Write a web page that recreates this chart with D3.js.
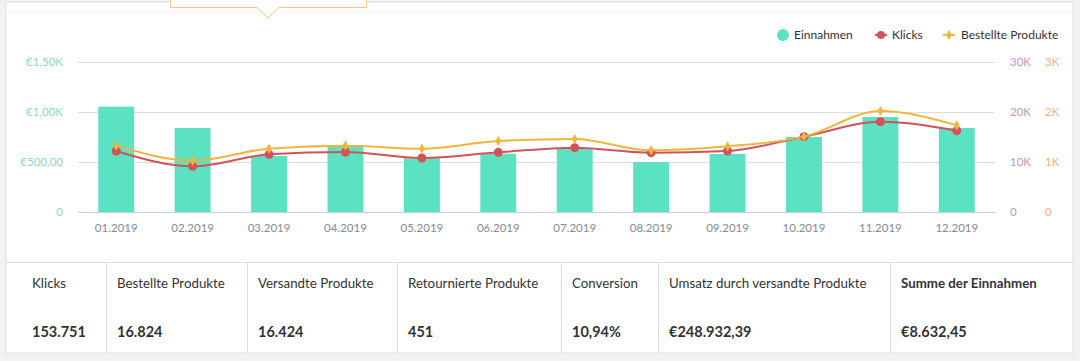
<!DOCTYPE html>
<html>
<head>
<meta charset="utf-8">
<script src="https://cdn.jsdelivr.net/npm/d3@7"></script>
<style>
  html, body { margin: 0; padding: 0; background: #f2f2f2; }
  svg { display: block; font-family: Lato, "Open Sans", sans-serif; }
</style>
</head>
<body>
<svg id="chart" width="1080" height="361"></svg>
<script>
// ── DATA ────────────────────────────────────────────
const months    = ['01.2019','02.2019','03.2019','04.2019','05.2019','06.2019',
                   '07.2019','08.2019','09.2019','10.2019','11.2019','12.2019'];
const einnahmen = [1053, 840, 560, 670, 537, 583, 633, 500, 580, 750, 950, 840];
const klicks    = [12200, 9130, 11530, 12000, 10800, 11930, 12870, 11870, 12200, 15070, 18070, 16270];
const bestellte = [1327, 1027, 1267, 1327, 1267, 1420, 1460, 1233, 1313, 1507, 2020, 1733];

const leftTicks   = [0, 500, 1000, 1500];
const leftLabels  = ['0', '€500,00', '€1,00K', '€1,50K'];
const klickTicks  = [0, 10000, 20000, 30000];
const klickLabels = ['0', '10K', '20K', '30K'];
const bestTicks   = [0, 1000, 2000, 3000];
const bestLabels  = ['0', '1K', '2K', '3K'];

const legendItems = ['Einnahmen', 'Klicks', 'Bestellte Produkte'];

const statLabels = ['Klicks', 'Bestellte Produkte', 'Versandte Produkte', 'Retournierte Produkte',
                    'Conversion', 'Umsatz durch versandte Produkte', 'Summe der Einnahmen'];
const statValues = ['153.751', '16.824', '16.424', '451', '10,94%', '€248.932,39', '€8.632,45'];
const statEdges  = [6, 106, 247, 397, 561, 658, 890, 1073];

// ── COLOURS ─────────────────────────────────────────
const cBar   = '#5ae2c3';
const cKlick = '#d3525a';
const cBest  = '#f0b53c';

const svg = d3.select('#chart');

// ── CARD ─────────────────────────────────────────────
svg.append('rect').attr('x', 6).attr('y', 2).attr('width', 1067).attr('height', 351)
  .attr('fill', '#fff').attr('stroke', '#dedede');
svg.append('line').attr('x1', 6).attr('x2', 1073).attr('y1', 11.5).attr('y2', 11.5)
  .attr('stroke', '#f6f6f6');

// tooltip stub at top
svg.append('path')
  .attr('d', 'M170.5,-2 L170.5,7.5 L257,7.5 L268,18 L279,7.5 L366.5,7.5 L366.5,-2')
  .attr('fill', '#fff').attr('stroke', '#f7c97a').attr('stroke-width', 1);

// ── SCALES ───────────────────────────────────────────
const x = d3.scaleBand().domain(months).range([78, 995]).paddingInner(0.53).paddingOuter(0.265);
const yE = d3.scaleLinear().domain([0, 1500]).range([212, 62]);
const yK = d3.scaleLinear().domain([0, 30000]).range([212, 62]);
const yB = d3.scaleLinear().domain([0, 3000]).range([212, 62]);

// gridlines
svg.append('g').selectAll('line').data(leftTicks.slice(1)).enter().append('line')
  .attr('x1', 78).attr('x2', 995)
  .attr('y1', d => Math.round(yE(d)) + 0.5).attr('y2', d => Math.round(yE(d)) + 0.5)
  .attr('stroke', '#dddddd');

// left axis labels
svg.append('g').selectAll('text').data(leftTicks).enter().append('text')
  .attr('x', 63).attr('y', d => yE(d)).attr('dy', '0.35em')
  .attr('text-anchor', 'end').attr('font-size', 11.5).attr('fill', '#8fd6c6')
  .text((d, i) => leftLabels[i]);

// right axes
svg.append('g').selectAll('text').data(klickTicks).enter().append('text')
  .attr('x', 1010).attr('y', d => yK(d)).attr('dy', '0.35em')
  .attr('font-size', 11.5).attr('fill', '#c195c3')
  .text((d, i) => klickLabels[i]);
svg.append('g').selectAll('text').data(bestTicks).enter().append('text')
  .attr('x', 1045).attr('y', d => yB(d)).attr('dy', '0.35em')
  .attr('font-size', 11.5).attr('fill', '#e9b47e')
  .text((d, i) => bestLabels[i]);

// bars
svg.append('g').selectAll('rect').data(einnahmen).enter().append('rect')
  .attr('x', (d, i) => x(months[i]))
  .attr('width', x.bandwidth())
  .attr('y', d => yE(d))
  .attr('height', d => yE(0) - yE(d))
  .attr('fill', cBar);

// bottom axis
svg.append('line').attr('x1', 78).attr('x2', 995).attr('y1', 212.5).attr('y2', 212.5)
  .attr('stroke', '#c3d2e2');
svg.append('g').selectAll('text').data(months).enter().append('text')
  .attr('x', d => x(d) + x.bandwidth() / 2).attr('y', 228).attr('dy', '0.35em')
  .attr('text-anchor', 'middle').attr('font-size', 11.5).attr('fill', '#858b94')
  .text(d => d);

// lines
const cx = (d, i) => x(months[i]) + x.bandwidth() / 2;
const lineK = d3.line().x(cx).y(d => yK(d)).curve(d3.curveMonotoneX);
const lineB = d3.line().x(cx).y(d => yB(d)).curve(d3.curveMonotoneX);

svg.append('path').attr('d', lineK(klicks)).attr('fill', 'none')
  .attr('stroke', cKlick).attr('stroke-width', 2);
svg.append('g').selectAll('circle').data(klicks).enter().append('circle')
  .attr('cx', cx).attr('cy', d => yK(d)).attr('r', 4.5).attr('fill', cKlick);

svg.append('path').attr('d', lineB(bestellte)).attr('fill', 'none')
  .attr('stroke', cBest).attr('stroke-width', 2);
svg.append('g').selectAll('path.dia').data(bestellte).enter().append('path')
  .attr('class', 'dia')
  .attr('d', d3.symbol().type(d3.symbolDiamond).size(30))
  .attr('transform', (d, i) => `translate(${cx(d, i)},${yB(d)})`)
  .attr('fill', cBest);

// ── LEGEND ───────────────────────────────────────────
const lg = svg.append('g').attr('font-size', 12).attr('fill', '#333');
lg.append('circle').attr('cx', 783).attr('cy', 35).attr('r', 6).attr('fill', cBar);
lg.append('text').attr('x', 794).attr('y', 35).attr('dy', '0.35em').text(legendItems[0]);
lg.append('line').attr('x1', 875).attr('x2', 887).attr('y1', 35).attr('y2', 35)
  .attr('stroke', cKlick).attr('stroke-width', 2);
lg.append('circle').attr('cx', 881).attr('cy', 35).attr('r', 4).attr('fill', cKlick);
lg.append('text').attr('x', 892).attr('y', 35).attr('dy', '0.35em').text(legendItems[1]);
lg.append('line').attr('x1', 943).attr('x2', 955).attr('y1', 35).attr('y2', 35)
  .attr('stroke', cBest).attr('stroke-width', 2);
lg.append('path').attr('d', d3.symbol().type(d3.symbolDiamond).size(30))
  .attr('transform', 'translate(949,35)').attr('fill', cBest);
lg.append('text').attr('x', 961).attr('y', 35).attr('dy', '0.35em').text(legendItems[2]);

// ── STATS TABLE ──────────────────────────────────────
const tbl = svg.append('g');
tbl.append('line').attr('x1', 6).attr('x2', 1073).attr('y1', 262.5).attr('y2', 262.5)
  .attr('stroke', '#dedede');
tbl.selectAll('line.div').data(statEdges.slice(1, -1)).enter().append('line')
  .attr('class', 'div')
  .attr('x1', d => d + 0.5).attr('x2', d => d + 0.5).attr('y1', 262).attr('y2', 353)
  .attr('stroke', '#dedede');

tbl.selectAll('text.lbl').data(statLabels).enter().append('text')
  .attr('class', 'lbl')
  .attr('x', (d, i) => statEdges[i] + (i === 0 ? 26 : 11))
  .attr('y', 283).attr('dy', '0.35em')
  .attr('font-size', 13.3).attr('fill', '#333')
  .attr('font-weight', (d, i) => i === statLabels.length - 1 ? 700 : 400)
  .text(d => d);

tbl.selectAll('text.val').data(statValues).enter().append('text')
  .attr('class', 'val')
  .attr('x', (d, i) => statEdges[i] + (i === 0 ? 26 : 11))
  .attr('y', 332).attr('dy', '0.35em')
  .attr('font-size', 14.5).attr('font-weight', 700).attr('fill', '#333')
  .text(d => d);
</script>
</body>
</html>
